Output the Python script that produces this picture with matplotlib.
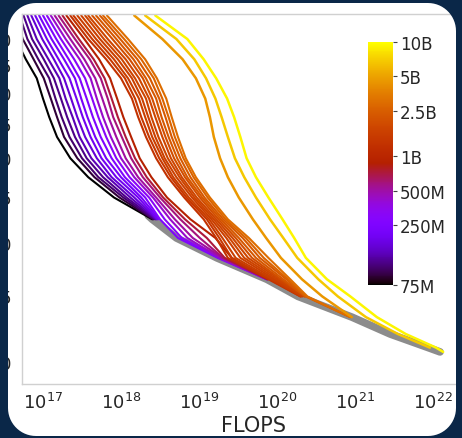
import numpy as np
import matplotlib
matplotlib.use("Agg")
import matplotlib.pyplot as plt
from matplotlib.colors import LogNorm
from matplotlib.path import Path
from matplotlib.patches import PathPatch
import matplotlib.ticker as mticker
import matplotlib as mpl

# ---------------- data ----------------
# shared training-loss levels; each curve lists log10(FLOPs) where it reaches each level
loss_levels = [6.5, 6.0, 5.6, 5.25, 4.9, 4.6, 4.3, 4.0, 3.75, 3.5, 3.25, 3.05,
               2.85, 2.65, 2.5, 2.33, 2.2, 2.1, 2.07]

small_sizes = [75e6, 90e6, 106e6, 117e6, 140e6, 163e6, 196e6, 217e6, 251e6,
               306e6, 425e6, 509e6, 587e6, 724e6, 893e6]
small_log_flops = [
    [16.58, 16.65, 16.78, 16.92, 17.00, 17.08, 17.18, 17.35, 17.58, 17.91, 18.40],
    [16.65, 16.74, 16.88, 17.01, 17.10, 17.18, 17.27, 17.44, 17.66, 17.98, 18.41],
    [16.70, 16.80, 16.94, 17.08, 17.16, 17.24, 17.34, 17.50, 17.71, 18.03, 18.42],
    [16.75, 16.86, 17.01, 17.14, 17.23, 17.31, 17.41, 17.56, 17.77, 18.07, 18.44],
    [16.80, 16.92, 17.07, 17.21, 17.29, 17.38, 17.47, 17.62, 17.83, 18.12, 18.45],
    [16.85, 16.99, 17.14, 17.27, 17.36, 17.44, 17.54, 17.69, 17.88, 18.17, 18.46],
    [16.90, 17.05, 17.20, 17.34, 17.43, 17.51, 17.61, 17.75, 17.94, 18.22, 18.47],
    [16.95, 17.11, 17.27, 17.41, 17.49, 17.57, 17.67, 17.81, 18.00, 18.26, 18.49],
    [17.00, 17.17, 17.33, 17.47, 17.56, 17.64, 17.74, 17.88, 18.05, 18.31, 18.50, 18.73, 19.24, 19.87],
    [17.05, 17.23, 17.40, 17.54, 17.63, 17.71, 17.81, 17.94, 18.11, 18.36, 18.56, 18.78, 19.26, 19.87],
    [17.10, 17.29, 17.47, 17.61, 17.69, 17.77, 17.87, 18.00, 18.17, 18.41, 18.63, 18.85, 19.27, 19.87],
    [17.15, 17.35, 17.53, 17.67, 17.76, 17.84, 17.94, 18.06, 18.22, 18.45, 18.69, 18.92, 19.30, 19.88],
    [17.20, 17.41, 17.60, 17.74, 17.83, 17.90, 18.01, 18.13, 18.28, 18.50, 18.76, 19.01, 19.31, 19.88],
    [17.25, 17.46, 17.65, 17.79, 17.88, 17.96, 18.06, 18.18, 18.33, 18.54, 18.82, 19.10, 19.33, 19.88],
    [17.30, 17.53, 17.72, 17.86, 17.95, 18.03, 18.13, 18.24, 18.39, 18.59, 18.89, 19.21, 19.42, 19.89],
]

mid_sizes = [1.27e9, 1.42e9, 1.59e9, 1.61e9, 1.73e9, 1.79e9, 2.0e9, 2.28e9,
             2.3e9, 2.64e9, 2.98e9]
mid_log_flops = [
    [17.35, 17.58, 17.81, 18.00, 18.14, 18.22, 18.32, 18.45, 18.60, 18.81, 19.06, 19.22, 19.37, 19.89, 20.30],
    [17.39, 17.63, 17.86, 18.05, 18.18, 18.26, 18.36, 18.49, 18.64, 18.84, 19.10, 19.26, 19.42, 19.91, 20.30],
    [17.44, 17.68, 17.91, 18.09, 18.23, 18.31, 18.40, 18.53, 18.67, 18.87, 19.13, 19.30, 19.47, 19.94, 20.31],
    [17.49, 17.73, 17.96, 18.14, 18.27, 18.35, 18.44, 18.56, 18.71, 18.91, 19.16, 19.35, 19.53, 19.97, 20.32],
    [17.54, 17.78, 18.01, 18.18, 18.32, 18.39, 18.48, 18.60, 18.75, 18.94, 19.19, 19.39, 19.58, 20.00, 20.33],
    [17.58, 17.83, 18.06, 18.23, 18.36, 18.44, 18.53, 18.64, 18.78, 18.97, 19.22, 19.43, 19.63, 20.03, 20.35],
    [17.63, 17.89, 18.11, 18.28, 18.40, 18.48, 18.57, 18.68, 18.82, 19.01, 19.25, 19.47, 19.68, 20.05, 20.36],
    [17.68, 17.94, 18.16, 18.32, 18.45, 18.52, 18.61, 18.72, 18.85, 19.04, 19.28, 19.51, 19.73, 20.08, 20.36],
    [17.73, 17.99, 18.21, 18.37, 18.49, 18.57, 18.65, 18.76, 18.89, 19.07, 19.31, 19.56, 19.78, 20.12, 20.37, 20.94],
    [17.77, 18.04, 18.26, 18.42, 18.53, 18.61, 18.69, 18.80, 18.93, 19.11, 19.34, 19.60, 19.83, 20.14, 20.37, 20.94],
    [17.82, 18.09, 18.31, 18.46, 18.58, 18.65, 18.73, 18.83, 18.96, 19.14, 19.37, 19.64, 19.89, 20.17, 20.39, 20.94],
]

large_sizes = [4.5e9, 6.8e9, 9.3e9]
large_log_flops = [
    [18.17, 18.53, 18.79, 18.96, 19.08, 19.14, 19.19, 19.27, 19.37, 19.51, 19.69, 19.86,
     20.05, 20.32, 20.58, 20.96],
    [18.31, 18.71, 18.94, 19.09, 19.21, 19.29, 19.37, 19.46, 19.58, 19.73, 19.91, 20.08,
     20.26, 20.53, 20.78, 21.14, 21.55, 21.96],
    [18.44, 18.85, 19.06, 19.22, 19.36, 19.45, 19.53, 19.61, 19.73, 19.89, 20.07, 20.22,
     20.37, 20.64, 20.94, 21.28, 21.65, 22.04, 22.13],
]

envelope_log_flops = [18.35, 18.40, 18.71, 19.23, 19.87, 20.27, 20.96, 21.45, 21.94, 22.09]
envelope_loss = [3.29, 3.25, 3.05, 2.85, 2.65, 2.5, 2.33, 2.2, 2.1, 2.07]

y_ticks = [2.0, 2.5, 3.0, 3.5, 4.0, 4.5, 5.0, 5.5, 6.0]
x_ticks = [1e17, 1e18, 1e19, 1e20, 1e21, 1e22]
cbar_ticks = [75e6, 250e6, 500e6, 1e9, 2.5e9, 5e9, 10e9]
cbar_labels = ["75M", "250M", "500M", "1B", "2.5B", "5B", "10B"]

# ---------------- figure ----------------
W, H = 462, 439
fig = plt.figure(figsize=(W / 100, H / 100), dpi=100, facecolor="white")
ax = fig.add_axes([21.7 / W, (H - 385) / H, (486 - 21.7) / W, (385 - 15) / H])
ax.set_facecolor("white")

cmap = plt.get_cmap("gnuplot")
norm = LogNorm(vmin=75e6, vmax=10e9)

ax.plot(10 ** np.array(envelope_log_flops), envelope_loss, color="#8c8c8c",
        lw=5.5, solid_capstyle="round", solid_joinstyle="round", zorder=1)

groups = [(small_sizes, small_log_flops, 1.5), (mid_sizes, mid_log_flops, 1.5),
          (large_sizes, large_log_flops, 1.8)]
for sizes, group, lw in groups:
    for s, lf in zip(sizes, group):
        lf = np.array(lf)
        ax.plot(10 ** lf, loss_levels[:len(lf)], color=cmap(norm(s)), lw=lw,
                solid_capstyle="round", solid_joinstyle="round", zorder=2)

ax.set_xscale("log")
ax.set_yscale("log")
ax.set_xlim(10 ** 16.727, 10 ** 22.679)
ax.set_ylim(1.856, 6.533)
ax.xaxis.set_major_locator(mticker.FixedLocator(x_ticks))
ax.xaxis.set_major_formatter(mticker.LogFormatterSciNotation())
ax.xaxis.set_minor_locator(mticker.NullLocator())
ax.yaxis.set_major_locator(mticker.FixedLocator(y_ticks))
ax.yaxis.set_major_formatter(mticker.FixedFormatter([f"{v:.1f}" for v in y_ticks]))
ax.yaxis.set_minor_locator(mticker.NullLocator())
ax.tick_params(axis="both", length=0, labelsize=13, labelcolor="#262626")
ax.tick_params(axis="x", pad=5.5)
ax.tick_params(axis="y", pad=7)
for sp in ax.spines.values():
    sp.set_color("#d0d0d0")
    sp.set_linewidth(1.0)
ax.set_xlabel("FLOPS", fontsize=15, color="#262626", labelpad=2)

# colorbar inset
cax = fig.add_axes([368 / W, (H - 286) / H, 25 / W, 243 / H])
cb = mpl.colorbar.ColorbarBase(cax, cmap=cmap, norm=norm, orientation="vertical")
cb.set_ticks(cbar_ticks)
cb.set_ticklabels(cbar_labels)
cax.yaxis.set_minor_locator(mticker.NullLocator())
cb.outline.set_visible(False)
cax.tick_params(length=3, width=0.8, color="#444444", labelsize=12,
                labelcolor="#262626", pad=2)

# rounded panel frame (navy outside)
def rounded(x0, y0, x1, y1, r, n=16):
    pts = []
    for cx, cy, a0, a1 in [(x1 - r, y0 + r, -90, 0), (x1 - r, y1 - r, 0, 90),
                           (x0 + r, y1 - r, 90, 180), (x0 + r, y0 + r, 180, 270)]:
        t = np.radians(np.linspace(a0, a1, n))
        pts += list(zip(cx + r * np.cos(t), cy + r * np.sin(t)))
    return pts

inner = rounded(8, H - 437, 456, H - 4, 28)
outer = [(0, 0), (0, H), (W, H), (W, 0)]
verts = outer + [outer[0]] + inner + [inner[0]]
codes = ([Path.MOVETO] + [Path.LINETO] * 3 + [Path.CLOSEPOLY] +
         [Path.MOVETO] + [Path.LINETO] * (len(inner) - 1) + [Path.CLOSEPOLY])
verts = [(x / W, y / H) for x, y in verts]
frame = PathPatch(Path(verts, codes), transform=fig.transFigure,
                  facecolor="#0a2748", edgecolor="none", zorder=100)
fig.add_artist(frame)

fig.savefig("out.png", dpi=100)
